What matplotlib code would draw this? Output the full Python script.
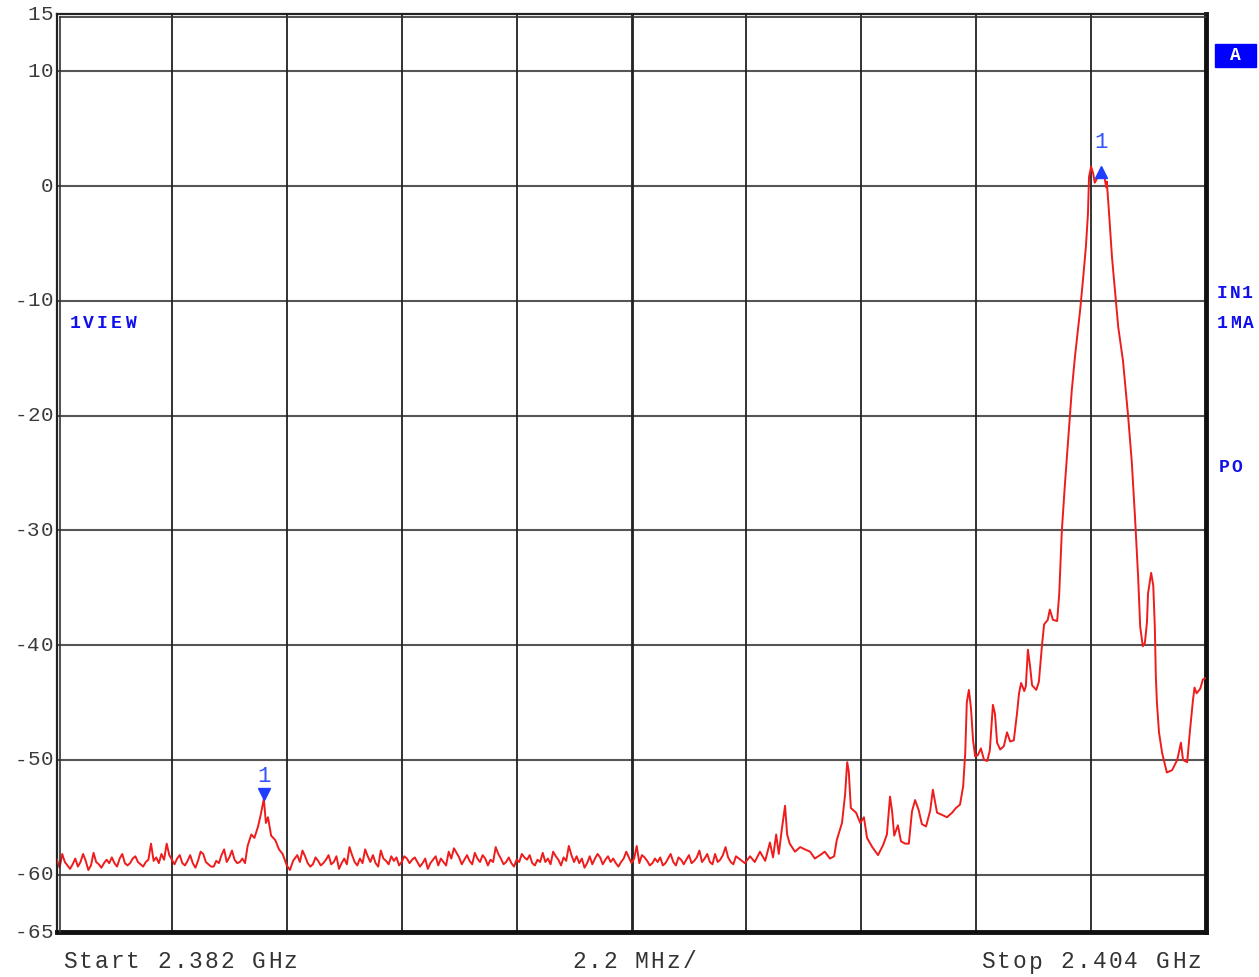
import numpy as np
import matplotlib
matplotlib.use("Agg")
import matplotlib.pyplot as plt

# ---------------- data ----------------
start_ghz_text = "Start 2.382 GHz"
span_text = "2.2 MHz/"
stop_ghz_text = "Stop 2.404 GHz"
span_mhz = 22.0
y_ticks = [15, 10, 0, -10, -20, -30, -40, -50, -60, -65]
y_grid = [10, 0, -10, -20, -30, -40, -50, -60]

# noise floor, 0.05 MHz steps from 0.0 MHz
floor1_start = 0.0
floor1_levels = [-58.7, -59.4, -58.2, -58.9, -59.2, -59.5, -59.1, -58.6, -59.3, -58.9,
                 -58.2, -58.8, -59.6, -59.2, -58.1, -58.9, -59.1, -59.4, -59.0, -58.7,
                 -59.0, -58.5, -59.0, -59.3, -58.6, -58.2, -59.0, -59.2, -59.0, -58.6,
                 -58.4, -58.9, -59.1, -59.3, -58.9, -58.7, -57.3, -58.8, -58.5, -59.0,
                 -58.2, -58.7, -57.3, -58.3, -58.7, -59.1, -58.6, -58.3, -59.0, -59.2,
                 -58.8, -58.3, -59.0, -59.4, -58.8, -58.0, -58.2, -58.9, -59.1, -59.3,
                 -59.3, -58.8, -59.0, -58.3, -57.8, -58.9, -58.5, -57.9, -58.7, -59.0,
                 -58.9, -58.6, -59.0]

# small spur around 3.96 MHz
spur_freq = [3.65, 3.72, 3.78, 3.85, 3.90, 3.96, 4.00, 4.04, 4.10, 4.18, 4.25, 4.32, 4.40, 4.46, 4.52]
spur_level = [-57.5, -56.5, -56.8, -55.8, -54.8, -53.4, -55.5, -55.0, -56.6, -57.0, -57.8, -58.2,
              -59.2, -59.6, -58.8]

# noise floor, 0.1 MHz readings from 4.6 MHz plus the readings half-way between them
floor2_start = 4.6
floor2_levels = [-58.3, -57.9, -59.0, -59.1, -58.8, -59.0, -58.3, -58.9, -59.5, -58.6, -57.6, -58.9,
                 -58.6, -57.8, -58.9, -59.0, -57.9, -58.8, -58.4, -58.5, -58.9, -58.6,
                 -58.7, -58.9, -59.0, -59.5, -58.7, -59.2, -58.9, -58.0, -57.7, -58.5,
                 -58.7, -58.8, -58.1, -58.9, -58.6, -58.7, -57.6, -58.6, -58.9, -59.0,
                 -58.7, -58.2, -58.7, -59.0, -58.7, -58.1, -58.6, -58.0, -58.7, -58.5,
                 -57.5, -58.9, -59.0, -59.4, -58.4, -58.6, -58.5, -58.7, -58.9, -59.0,
                 -58.9, -58.0, -59.0, -57.5, -58.3, -58.8, -59.0, -58.9,
                 -59.2, -58.6, -58.9, -58.5, -59.1, -58.3, -58.8, -57.9, -58.6, -58.9,
                 -58.2, -58.7, -57.6, -58.9, -58.4]
floor2_mid_levels = [-58.9, -58.4, -59.3, -58.5, -59.2, -58.7, -59.1, -58.4, -59.0, -59.1, -58.3, -59.2,
                     -59.0, -58.4, -58.3, -59.3, -58.6, -59.1, -58.8, -59.2, -58.4, -59.0,
                     -58.5, -59.3, -58.6, -59.0, -58.4, -58.6, -59.2, -58.6, -58.1, -59.1,
                     -58.3, -59.1, -58.6, -58.3, -59.2, -58.9, -58.2, -59.1, -58.5, -59.3,
                     -58.9, -58.5, -58.3, -59.2, -58.9, -58.9, -59.1, -58.4, -59.2, -58.8,
                     -58.3, -58.4, -58.6, -59.0, -59.1, -58.2, -59.1, -58.4, -58.6, -59.3,
                     -58.6, -58.5, -58.6, -59.0, -58.5, -59.2, -58.6, -58.5,
                     -59.0, -58.2, -59.2, -58.7, -58.7, -59.0, -58.5, -58.9, -58.2, -59.1,
                     -58.9, -58.3, -58.5, -59.1]

# upper part of the sweep (13.1 .. 22 MHz)
upper_freq = [13.17, 13.27, 13.36, 13.46, 13.56, 13.65, 13.71, 13.77, 13.82, 13.88, 13.94, 13.98,
              14.03, 14.13, 14.23, 14.32, 14.42, 14.51, 14.61, 14.70, 14.80, 14.88, 14.93, 15.03,
              15.09, 15.13, 15.16, 15.20, 15.30, 15.38, 15.45, 15.51, 15.61, 15.72, 15.82, 15.89,
              15.95, 15.99, 16.03, 16.10, 16.16, 16.24, 16.31, 16.37, 16.43, 16.50, 16.56, 16.64,
              16.72, 16.77, 16.85, 16.95, 17.04, 17.14, 17.21, 17.29, 17.35, 17.39, 17.42, 17.46,
              17.50, 17.54, 17.58, 17.63, 17.69, 17.75, 17.81, 17.86, 17.92, 17.96, 18.00, 18.06,
              18.13, 18.19, 18.25, 18.32, 18.38, 18.42, 18.46, 18.52, 18.55, 18.59, 18.63, 18.67,
              18.75, 18.80, 18.86, 18.90, 18.97, 19.01, 19.07, 19.15, 19.19, 19.24, 19.30, 19.36,
              19.43, 19.49, 19.59, 19.65, 19.70, 19.74, 19.76, 19.80, 19.84, 19.87, 19.93, 19.99,
              20.05, 20.09, 20.10, 20.14, 20.20, 20.26, 20.32, 20.41, 20.51, 20.58, 20.64, 20.70,
              20.74, 20.79, 20.83, 20.87, 20.89, 20.95, 20.99, 21.02, 21.04, 21.06, 21.10, 21.16,
              21.25, 21.35, 21.45, 21.52, 21.56, 21.64, 21.69, 21.75, 21.78, 21.82, 21.89, 21.94,
              21.98]
upper_level = [-59.0, -58.4, -58.9, -58.0, -58.8, -57.2, -58.5, -56.5, -58.2, -56.0, -54.0, -56.5,
               -57.3, -58.0, -57.6, -57.8, -58.0, -58.6, -58.3, -58.0, -58.6, -58.4, -57.0, -55.5,
               -53.0, -50.2, -51.0, -54.2, -54.6, -55.5, -55.0, -56.8, -57.6, -58.3, -57.4, -56.5,
               -53.2, -54.5, -56.6, -55.7, -57.1, -57.3, -57.3, -54.5, -53.5, -54.4, -55.6, -55.8,
               -54.4, -52.6, -54.6, -54.8, -55.0, -54.6, -54.2, -53.9, -52.3, -49.4, -45.0, -43.9,
               -45.5, -48.3, -49.7, -49.6, -49.0, -50.0, -50.1, -49.2, -45.2, -46.0, -48.5, -49.1,
               -48.8, -47.6, -48.4, -48.3, -46.0, -44.2, -43.3, -44.0, -43.6, -40.4, -41.8, -43.5,
               -43.9, -43.2, -40.0, -38.2, -37.8, -36.9, -37.8, -37.9, -35.5, -30.0, -25.9, -22.1,
               -17.8, -14.9, -10.8, -7.9, -5.3, -2.4, 0.8, 1.7, 1.1, 0.3, 0.8, 1.2,
               0.9, -0.1, 0.4, -2.1, -6.2, -9.3, -12.3, -15.2, -20.1, -24.1, -28.8, -34.0,
               -38.4, -40.1, -39.8, -38.0, -35.5, -33.7, -34.8, -38.4, -42.8, -45.0, -47.6, -49.4,
               -51.1, -50.9, -50.0, -48.5, -50.0, -50.2, -47.6, -44.8, -43.7, -44.2, -43.8, -43.0,
               -42.9]

marker_freq = [19.99, 3.96]
marker_level = [1.2, -53.0]
marker_symbol = ["^", "v"]
marker_label = ["1", "1"]

# ---------------- build trace ----------------
f1 = floor1_start + 0.05 * np.arange(len(floor1_levels))
f2_levels = np.empty(len(floor2_levels) + len(floor2_mid_levels))
f2_levels[0::2] = floor2_levels
f2_levels[1::2] = floor2_mid_levels
f2 = floor2_start + 0.05 * np.arange(len(f2_levels))
freq = np.concatenate([f1, spur_freq, f2, upper_freq])
level = np.concatenate([floor1_levels, spur_level, f2_levels, upper_level])

# ---------------- figure ----------------
W, H = 1259, 977
fig = plt.figure(figsize=(W / 100, H / 100), dpi=100)
fig.patch.set_facecolor("white")

def fx(px):
    return px / W

def fy(py):
    return 1 - py / H

ax_l, ax_r, ax_t, ax_b = 57, 1206, 14, 932
ax = fig.add_axes([fx(ax_l), fy(ax_b), fx(ax_r) - fx(ax_l), fy(ax_t) - fy(ax_b)])
ax.set_xlim(0, span_mhz)
ax.set_ylim(-65, 15)
ax.set_facecolor("white")

mono = "Liberation Mono"

# grid
for g in y_grid:
    ax.axhline(g, color="#555555", lw=1.5, zorder=1)
for d in range(1, 10):
    ax.axvline(d * span_mhz / 10, color="#222222", lw=1.3, zorder=1)
ax.axvline(span_mhz / 2 + 0.03, color="#222222", lw=1.3, zorder=1)

# trace
ax.plot(freq, level, color="#ee1c1c", lw=1.4, zorder=3)

# markers
for mf, ml, sym, lab in zip(marker_freq, marker_level, marker_symbol, marker_label):
    ax.plot([mf], [ml], marker=sym, ms=9, color="#1f3fff", zorder=4, ls="none")
    off = 30 if sym == "^" else 18
    ax.annotate(lab, (mf, ml), xytext=(0, off), textcoords="offset pixels",
                color="#3355ff", fontsize=16, family=mono, ha="center", va="center", zorder=5)

# y tick labels (letter spaced, right aligned at the frame)
ax.set_yticks(y_ticks)
ax.set_yticklabels([])
ax.tick_params(axis="y", length=0)
ax.set_xticks([])

def spaced(x0, y, s, pitch, size=15, color="#333333", weight="normal"):
    for i, ch in enumerate(s):
        fig.text(fx(x0 + pitch * (i + 0.5)), fy(y), ch, family=mono, fontsize=size,
                 color=color, ha="center", va="center", weight=weight)

def data_to_py(v):
    return ax_t + (15 - v) / 80.0 * (ax_b - ax_t)

for t in y_ticks:
    s = str(t)
    pitch = 13.0
    spaced(53 - pitch * len(s), data_to_py(t), s, pitch, size=15, color="#3a3a3a")

# frame
for side in ["top", "left"]:
    ax.spines[side].set_linewidth(1.6)
    ax.spines[side].set_color("#222222")
for side in ["bottom", "right"]:
    ax.spines[side].set_linewidth(3.5)
    ax.spines[side].set_color("#111111")
fig.add_artist(plt.Line2D([fx(ax_l + 3), fx(ax_r)], [fy(ax_t + 3)] * 2, color="#333333", lw=1.2))
fig.add_artist(plt.Line2D([fx(ax_l + 3)] * 2, [fy(ax_t + 3), fy(ax_b)], color="#333333", lw=1.2))

# bottom annotation text
spaced(62, 962, start_ghz_text, 15.75, size=16.5)
spaced(571, 962, span_text, 15.75, size=16.5)
spaced(980, 962, stop_ghz_text, 15.9, size=16.5)

# blue side annotations
blue = "#1010ee"
spaced(68, 324, "1VIEW", 13.8, size=13, color=blue, weight="bold")
spaced(1216, 294, "IN1", 12.6, size=13, color=blue, weight="bold")
spaced(1216, 324, "1MA", 13.0, size=13, color=blue, weight="bold")
spaced(1218, 467, "PO", 12.5, size=13, color=blue, weight="bold")

# "A" box
fig.add_artist(plt.Rectangle((fx(1215), fy(67)), fx(1256) - fx(1215), fy(44) - fy(67),
                             color="#0000ff", transform=fig.transFigure))
fig.text(fx(1235.5), fy(55.5), "A", family=mono, fontsize=13, weight="bold",
         color="white", ha="center", va="center")

fig.savefig("out.png", dpi=100, facecolor="white")
